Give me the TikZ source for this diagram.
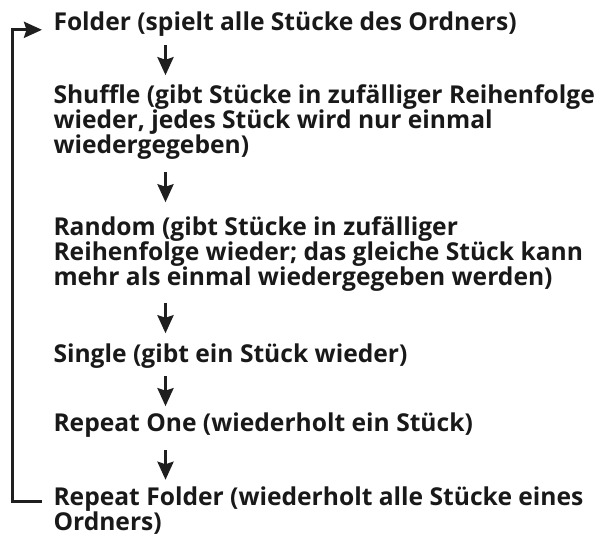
\documentclass[tikz,border=0pt]{standalone}
\usepackage{fontspec}
\setmainfont{Open Sans}
\usepackage{tikz}
\usetikzlibrary{positioning, arrows.meta}
\tikzset{mode text/.style={align=left, inner sep=0pt, text=black!90, font=\bfseries\fontsize{24.6}{25}\selectfont}}
\tikzset{flow/.style 2 args={shorten <=#1, shorten >=#2}}

\begin{document}
\begin{tikzpicture}[x=1pt, y=-1pt, ->, >={Stealth[length=18pt,width=16pt,inset=2.5pt]}, line width=3pt, draw=black!88]
			\useasboundingbox (0,0) rectangle (598,537);
			\coordinate (ax) at (165.5,0);
			\node[mode text, anchor=base west] (m0) at (52,30.5) {Folder (spielt alle Stücke des Ordners)};
			\node[mode text, below right=45.3pt and 0pt of m0.south west] (m1) {Shuffle (gibt Stücke in zufälliger Reihenfolge\\wieder, jedes Stück wird nur einmal\\wiedergegeben)};
			\node[mode text, below right=54.3pt and 0pt of m1.south west] (m2) {Random (gibt Stücke in zufälliger\\Reihenfolge wieder; das gleiche Stück kann\\mehr als einmal wiedergegeben werden)};
			\node[mode text, below right=49.3pt and 0pt of m2.south west] (m3) {Single (gibt ein Stück wieder)};
			\node[mode text, below right=41.3pt and 0pt of m3.south west] (m4) {Repeat One (wiederholt ein Stück)};
			\node[mode text, below right=47pt and 0pt of m4.south west] (m5) {Repeat Folder (wiederholt alle Stücke eines\\Ordners)};
			
			\draw[flow={7pt}{8pt}] (m0.south -| ax) -- (m1.north -| ax);
			\draw[flow={11pt}{13pt}] (m1.south -| ax) -- (m2.north -| ax);
			\draw[flow={10pt}{9pt}] (m2.south -| ax) -- (m3.north -| ax);
			\draw[flow={6pt}{5pt}] (m3.south -| ax) -- (m4.north -| ax);
			\draw[flow={11pt}{6pt}] (m4.south -| ax) -- (m5.north -| ax);
			\draw[flow={10pt}{10pt}] ([yshift=-15.5pt]m5.north west) -- ++(-40,0) |- ([yshift=-19.5pt]m0.north west);
		\end{tikzpicture}
\end{document}
